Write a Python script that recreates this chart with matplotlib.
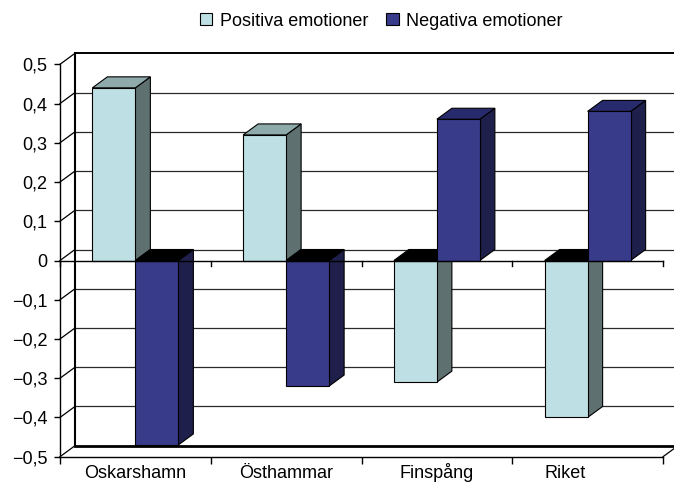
import numpy as np
import matplotlib
matplotlib.use("Agg")
import matplotlib.pyplot as plt
from matplotlib.patches import Polygon, Patch
from matplotlib.transforms import ScaledTranslation

plt.rcParams["font.family"] = ["Liberation Sans", "DejaVu Sans"]

# data
categories = ["Oskarshamn", "Östhammar", "Finspång", "Riket"]
series_names = ["Positiva emotioner", "Negativa emotioner"]
positiva = [0.44, 0.32, -0.31, -0.40]
negativa = [-0.47, -0.32, 0.36, 0.38]
yticks = [-0.5, -0.4, -0.3, -0.2, -0.1, 0.0, 0.1, 0.2, 0.3, 0.4, 0.5]

# colours (front, side, top) for each series
light = ("#BEE0E4", "#5E7070", "#8FAAAA")
dark = ("#383A8A", "#1E1F4A", "#282A6E")

W, H = 674, 486
fig = plt.figure(figsize=(W / 100, H / 100), dpi=100)
fig.patch.set_facecolor("white")

# front plane of the plot area in pixels
left_px, right_px, top_px, bot_px = 60, 663, 64.3, 456.7
ax = fig.add_axes([left_px / W, (H - bot_px) / H,
                   (right_px - left_px) / W, (bot_px - top_px) / H])
n = len(categories)
ax.set_xlim(0, n)
ax.set_ylim(-0.5, 0.5)

# depth of the 3d box, converted from pixels to data units
DX = 15 / (right_px - left_px) * n
DY = 11 / (bot_px - top_px)
ymin, ymax = -0.5, 0.5

# back wall
ax.add_patch(Polygon([(DX, ymin + DY), (n + DX, ymin + DY), (n + DX, ymax + DY), (DX, ymax + DY)],
                     closed=True, facecolor="white", edgecolor="none", zorder=0, clip_on=False))
for t in yticks[1:-1]:
    ax.plot([DX, n + DX], [t + DY, t + DY], color="#2a2a2a", lw=0.9, zorder=1, clip_on=False)
ax.plot([DX, n + DX], [ymax + DY, ymax + DY], color="black", lw=1.4, zorder=1, clip_on=False)
ax.plot([DX, n + DX], [ymin + DY, ymin + DY], color="black", lw=2.0, zorder=1, clip_on=False)
ax.plot([DX, DX], [ymin + DY, ymax + DY], color="black", lw=1.5, zorder=1, clip_on=False)

# side wall diagonals
for t in yticks:
    ax.plot([0, DX], [t, t + DY], color="black", lw=0.9, zorder=1, clip_on=False)

# floor
ax.plot([n, n + DX], [ymin, ymin + DY], color="black", lw=0.9, zorder=1, clip_on=False)

# bars
bw = 43 / ((right_px - left_px) / n)


def bar3d(x0, w, v, cols):
    front, side, top = cols
    x1 = x0 + w
    ax.add_patch(Polygon([(x1, 0), (x1 + DX, DY), (x1 + DX, v + DY), (x1, v)],
                         closed=True, facecolor=side, edgecolor="black", lw=0.8,
                         zorder=3, clip_on=False))
    ytop = max(v, 0)
    topcol = top if v > 0 else "black"
    ax.add_patch(Polygon([(x0, ytop), (x1, ytop), (x1 + DX, ytop + DY), (x0 + DX, ytop + DY)],
                         closed=True, facecolor=topcol, edgecolor="black", lw=0.8,
                         zorder=3, clip_on=False))
    ax.bar(x0, v, width=w, align="edge", color=front, edgecolor="black", lw=0.8,
           zorder=4, clip_on=False)


x = np.arange(n)
for i in range(n):
    bar3d(x[i] + 0.5 - bw, bw, positiva[i], light)
    bar3d(x[i] + 0.5, bw, negativa[i], dark)

# category axis at zero with tick marks between categories
tk = 5 / (bot_px - top_px)
ax.plot([0, n], [0, 0], color="black", lw=1.0, zorder=5, clip_on=False)
for b in range(n + 1):
    ax.plot([b, b], [0, -tk], color="black", lw=1.0, zorder=5, clip_on=False)

# axes styling
for s in ["top", "right"]:
    ax.spines[s].set_visible(False)
ax.spines["left"].set_linewidth(1.0)
ax.spines["bottom"].set_linewidth(1.0)
ax.spines["left"].set_zorder(5)
ax.set_yticks(yticks)
ax.set_yticklabels([("0" if abs(t) < 1e-9 else f"{t:.1f}".replace(".", ",").replace("-", "\u2212"))
                    for t in yticks], fontsize=13)
ax.tick_params(axis="y", length=4, width=1.0, pad=5)
ax.set_xticks(x + 0.5)
ax.set_xticklabels(categories, fontsize=13, va="baseline")
ax.set_xticks(np.arange(n + 1), minor=True)
ax.tick_params(axis="x", which="major", length=0, pad=15)
ax.tick_params(axis="x", which="minor", length=5, width=1.0)
ax.set_facecolor("none")

# last label sits a bit left of its category centre in the original
lbls = ax.get_xticklabels()
lbls[-1].set_transform(lbls[-1].get_transform() + ScaledTranslation(-22 / 100, 0, fig.dpi_scale_trans))

handles = [Patch(facecolor=light[0], edgecolor="black", lw=0.8),
           Patch(facecolor=dark[0], edgecolor="black", lw=0.8)]
fig.legend(handles, series_names, loc="center", bbox_to_anchor=(381 / W, 1 - 21 / H),
           ncol=2, frameon=False, fontsize=13, handlelength=0.7, handleheight=0.7,
           handletextpad=0.4, columnspacing=1.0)

fig.savefig("out.png", dpi=100)
